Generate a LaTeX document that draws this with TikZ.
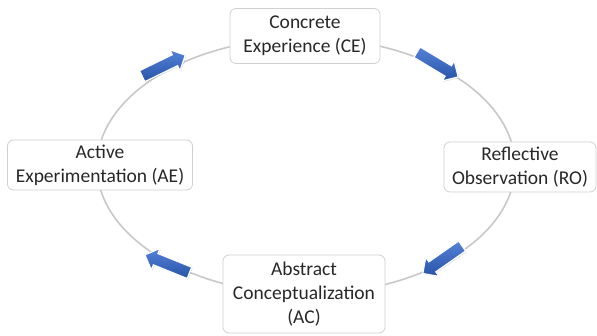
\documentclass[tikz,border=0pt]{standalone}
\usepackage{fontspec}
\setmainfont{Carlito}
\usetikzlibrary{shapes.arrows,shadows}
\definecolor{boxline}{RGB}{208,208,208}
\definecolor{ringgray}{RGB}{200,200,200}
\definecolor{arrowblue}{RGB}{58,104,192}
\definecolor{arrowlight}{RGB}{84,130,214}
\definecolor{arrowdark}{RGB}{40,84,168}
\definecolor{textgray}{RGB}{40,40,40}

\begin{document}
\begin{tikzpicture}[x=1pt,y=-1pt,
			stage/.style={rectangle, rounded corners=6pt, draw=boxline, line width=0.8pt, fill=white,
				align=center, text=textgray, font=\fontsize{19.5}{24}\selectfont, inner sep=0pt},
			flow/.style={single arrow, draw=white, line width=1.2pt, top color=arrowlight, bottom color=arrowdark,
				minimum height=48pt, minimum width=23pt, single arrow head extend=5.5pt,
				inner xsep=0pt, inner ysep=5.5pt,
				drop shadow={opacity=0.25, shadow xshift=1pt, shadow yshift=-1pt}}
		]
		\useasboundingbox (0,0) rectangle (597,336);
		
		% cycle ring
		\draw[ringgray, line width=1.6pt] (306,166) ellipse (209pt and 128pt);
		
		\node[stage, minimum width=150pt, minimum height=55pt] (ce) at (305,36) {Concrete\\Experience (CE)};
		\node[stage, minimum width=152pt, minimum height=50pt] (ro) at (520,167) {Reflective\\Observation (RO)};
		\node[stage, minimum width=162pt, minimum height=78pt] (ac) at (304,294) {Abstract\\Conceptualization\\(AC)};
		\node[stage, minimum width=185pt, minimum height=50pt] (ae) at (100,165) {Active\\Experimentation (AE)};
		
		\node[flow, rotate=26] (f_ae) at (161,67) {};
		\node[flow, rotate=-31] (f_ce) at (435,63) {};
		\node[flow, rotate=-145] (f_ro) at (445,258) {};
		\node[flow, rotate=158] (f_ac) at (170,265) {};
	\end{tikzpicture}
\end{document}
